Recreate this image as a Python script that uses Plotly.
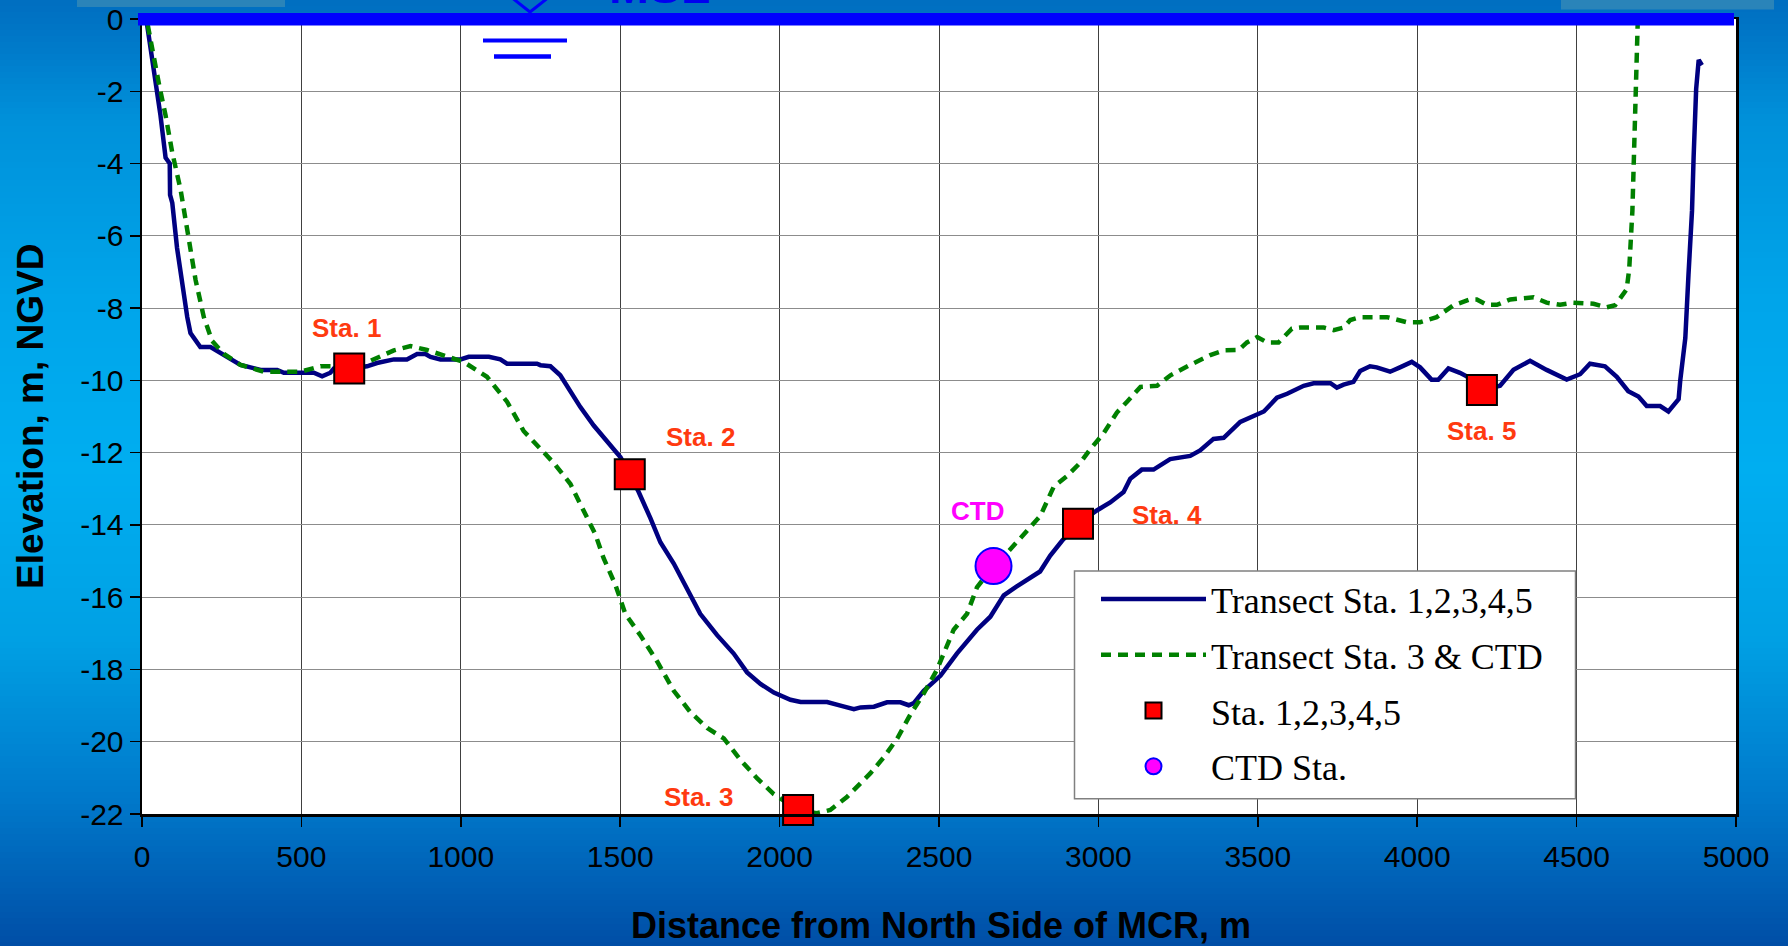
import plotly.graph_objects as go

# ---------------- data ----------------
blue_x = [10, 37, 58, 74, 87, 88, 95, 110, 126, 142, 152, 168, 183, 215, 246, 293, 309, 372, 424, 445,
          497, 539, 565, 591, 602, 650, 706, 737, 790, 831, 863, 889, 905, 936, 999, 1025, 1088, 1124,
          1145, 1239, 1250, 1281, 1312, 1333, 1375, 1417, 1448, 1501, 1530, 1558, 1595, 1626, 1668,
          1710, 1751, 1804, 1856, 1898, 1940, 1982, 2034, 2066, 2149, 2191, 2233, 2254, 2296, 2337,
          2379, 2405, 2421, 2452, 2505, 2556, 2619, 2661, 2703, 2744, 2776, 2817, 2849, 2886, 2936,
          2995, 3037, 3079, 3100, 3136, 3173, 3225, 3288, 3319, 3361, 3393, 3445, 3498, 3519, 3560,
          3592, 3644, 3675, 3728, 3748, 3769, 3800, 3821, 3852, 3873, 3894, 3915, 3946, 3983, 4009,
          4045, 4066, 4098, 4134, 4155, 4203, 4260, 4302, 4354, 4406, 4469, 4511, 4542, 4589, 4626,
          4662, 4694, 4720, 4762, 4788, 4820, 4825, 4841, 4851, 4862, 4867, 4875, 4883, 4893]
blue_y = [0.2, -1.35, -2.67, -3.84, -4.0, -4.87, -5.09, -6.34, -7.37, -8.25, -8.69, -8.88, -9.08, -9.08,
          -9.24, -9.46, -9.57, -9.71, -9.71, -9.79, -9.79, -9.79, -9.89, -9.79, -9.67, -9.67, -9.61,
          -9.52, -9.42, -9.42, -9.27, -9.27, -9.35, -9.42, -9.42, -9.35, -9.35, -9.42, -9.54, -9.54,
          -9.58, -9.61, -9.86, -10.15, -10.74, -11.25, -11.59, -12.13, -12.6, -13.09, -13.82, -14.48,
          -15.07, -15.8, -16.46, -17.05, -17.56, -18.08, -18.4, -18.64, -18.84, -18.9, -18.9, -19.0,
          -19.1, -19.05, -19.03, -18.91, -18.91, -18.99, -18.93, -18.59, -18.17, -17.56, -16.9, -16.54,
          -15.95, -15.7, -15.51, -15.29, -14.85, -14.44, -13.97, -13.6, -13.38, -13.09, -12.72, -12.47,
          -12.47, -12.18, -12.09, -11.94, -11.62, -11.59, -11.15, -10.93, -10.86, -10.48, -10.37,
          -10.15, -10.08, -10.08, -10.2, -10.12, -10.04, -9.74, -9.61, -9.64, -9.71, -9.76, -9.64,
          -9.49, -9.64, -9.98, -9.98, -9.67, -9.79, -9.89, -10.27, -10.15, -9.71, -9.46, -9.71, -9.98,
          -9.83, -9.54, -9.61, -9.9, -10.3, -10.45, -10.71, -10.71, -10.86, -10.52, -10.01, -8.83,
          -7.07, -5.31, -3.84, -1.94, -1.13, -1.28]

green_x = [8, 27, 53, 74, 95, 121, 147, 168, 194, 220, 257, 309, 382, 497, 560, 602, 650, 716, 790,
           842, 894, 957, 1009, 1082, 1145, 1197, 1250, 1291, 1344, 1386, 1422, 1448, 1485, 1516, 1563,
           1616, 1668, 1720, 1773, 1825, 1877, 1929, 1982, 2058, 2117, 2159, 2211, 2285, 2327, 2369,
           2410, 2452, 2494, 2546, 2588, 2619, 2671, 2713, 2765, 2818, 2860, 2901, 2943, 2974, 3016,
           3058, 3090, 3132, 3184, 3226, 3288, 3351, 3393, 3440, 3466, 3498, 3529, 3565, 3607, 3633,
           3707, 3738, 3769, 3790, 3821, 3905, 3967, 4009, 4061, 4114, 4166, 4187, 4218, 4250, 4292,
           4365, 4406, 4448, 4490, 4553, 4594, 4621, 4657, 4665, 4675, 4680, 4683, 4688, 4693]
green_y = [0.3, -0.62, -1.79, -2.67, -3.7, -4.72, -6.05, -7.22, -8.25, -8.91, -9.27, -9.57, -9.76,
           -9.76, -9.61, -9.61, -9.55, -9.46, -9.17, -9.05, -9.16, -9.35, -9.49, -9.9, -10.59, -11.4,
           -11.88, -12.28, -12.87, -13.6, -14.26, -14.92, -15.66, -16.46, -17.05, -17.78, -18.59,
           -19.18, -19.62, -19.91, -20.5, -21.01, -21.45, -21.89, -21.98, -21.89, -21.53, -20.87,
           -20.43, -19.91, -19.25, -18.67, -18.0, -16.9, -16.46, -15.73, -15.14, -14.78, -14.26,
           -13.75, -12.94, -12.65, -12.28, -11.91, -11.47, -10.89, -10.59, -10.18, -10.15, -9.86,
           -9.57, -9.3, -9.17, -9.16, -8.95, -8.8, -8.95, -8.95, -8.57, -8.54, -8.54, -8.61, -8.54,
           -8.33, -8.25, -8.25, -8.39, -8.39, -8.25, -7.92, -7.76, -7.76, -7.91, -7.91, -7.76, -7.7,
           -7.85, -7.91, -7.85, -7.88, -7.98, -7.92, -7.48, -6.93, -5.31, -3.55, -2.38, -1.06, 0.3]

sta_x = [650, 1530, 2058, 2936, 4203]
sta_y = [-9.67, -12.6, -21.89, -13.97, -10.27]
sta_names = ["Sta. 1", "Sta. 2", "Sta. 3", "Sta. 4", "Sta. 5"]

ctd_x = [2671]
ctd_y = [-15.14]
ctd_names = ["CTD"]

x_ticks = [0, 500, 1000, 1500, 2000, 2500, 3000, 3500, 4000, 4500, 5000]
y_ticks = [0, -2, -4, -6, -8, -10, -12, -14, -16, -18, -20, -22]

series_names = ["Transect Sta. 1,2,3,4,5", "Transect Sta. 3 & CTD", "Sta. 1,2,3,4,5", "CTD Sta."]

# ---------------- geometry ----------------
W, H = 1788, 946
ML, MR, MT, MB = 142, 52, 19, 132
PW, PH = W - ML - MR, H - MT - MB


def px(p):
    return (p - ML) / PW


def py(p):
    return (H - MB - p) / PH


SANS = "Liberation Sans, Arial, sans-serif"
SERIF = "Liberation Serif, Times New Roman, serif"

fig = go.Figure()
fig.add_trace(go.Scatter(x=blue_x, y=blue_y, mode="lines", name=series_names[0], legendgroup="g1",
                         line=dict(color="#000080", width=4.5)))
fig.add_trace(go.Scatter(x=green_x, y=green_y, mode="lines", name=series_names[1], legendgroup="g2",
                         line=dict(color="#008000", width=4.5, dash="10px,7px")))
fig.add_trace(go.Scatter(x=sta_x, y=sta_y, mode="markers", name=series_names[2], legendgroup="g3",
                         cliponaxis=False,
                         marker=dict(symbol="square", size=30, color="#FF0000",
                                     line=dict(color="#000000", width=2))))
fig.add_trace(go.Scatter(x=ctd_x, y=ctd_y, mode="markers", name=series_names[3], legendgroup="g4",
                         cliponaxis=False,
                         marker=dict(symbol="circle", size=36, color="#FF00FF",
                                     line=dict(color="#0000FF", width=2))))

# ---------------- background gradient ----------------
stops = [(0, (0, 110, 192)), (40, (0, 120, 200)), (120, (0, 145, 218)), (300, (0, 165, 234)),
         (470, (0, 174, 240)), (640, (0, 160, 228)), (800, (0, 120, 202)), (946, (0, 78, 166))]


def grad(p):
    for (a, ca), (b, cb) in zip(stops[:-1], stops[1:]):
        if a <= p <= b:
            t = (p - a) / (b - a)
            return "rgb(%d,%d,%d)" % tuple(round(ca[k] + t * (cb[k] - ca[k])) for k in range(3))
    return "rgb(%d,%d,%d)" % stops[-1][1]


shapes = []
step = 6
for p in range(0, H, step):
    shapes.append(dict(type="rect", xref="paper", yref="paper", x0=-0.2, x1=1.2,
                       y0=py(p + step + 0.5), y1=py(p), fillcolor=grad(p + step / 2),
                       line=dict(width=0), layer="below"))
# plot area background
shapes.append(dict(type="rect", xref="paper", yref="paper", x0=0, x1=1, y0=0, y1=1,
                   fillcolor="white", line=dict(width=0), layer="below"))
# light boxes at top
for a, b, h in [(77, 285, 7), (1561, 1774, 9.5)]:
    shapes.append(dict(type="rect", xref="paper", yref="paper", x0=px(a), x1=px(b),
                       y0=py(h), y1=py(-2), fillcolor="#2A84B9", line=dict(width=0), layer="below"))
# MSL bar
shapes.append(dict(type="rect", xref="paper", yref="paper", x0=px(138), x1=px(1734),
                   y0=py(25.5), y1=py(13), fillcolor="#0000FF", line=dict(width=0), layer="above"))
# water level symbol
shapes.append(dict(type="path", xref="paper", yref="paper",
                   path="M %f,%f L %f,%f L %f,%f" % (px(511), py(-3), px(530), py(12), px(549), py(-3)),
                   line=dict(color="#0000FF", width=3), layer="above"))
shapes.append(dict(type="line", xref="paper", yref="paper", x0=px(483), x1=px(567),
                   y0=py(40.5), y1=py(40.5), line=dict(color="#0000FF", width=4), layer="above"))
shapes.append(dict(type="line", xref="paper", yref="paper", x0=px(494), x1=px(551),
                   y0=py(56.5), y1=py(56.5), line=dict(color="#0000FF", width=4.5), layer="above"))
# legend box
shapes.append(dict(type="rect", xref="paper", yref="paper", x0=px(1074.5), x1=px(1575.5),
                   y0=py(798.7), y1=py(571), fillcolor="white",
                   line=dict(color="#808080", width=1.5), layer="above"))

# ---------------- annotations ----------------
annotations = []
sta_shift = [(-3, 40), (71, 37), (-100, 13), (89, 9), (0, -41)]
for xx, yy, nm, (dx, dy) in zip(sta_x, sta_y, sta_names, sta_shift):
    annotations.append(dict(x=xx, y=yy, xref="x", yref="y", text=nm, showarrow=False,
                            xshift=dx, yshift=dy,
                            font=dict(family=SANS, size=26, color="#FF3A10", weight="bold")))
for xx, yy, nm in zip(ctd_x, ctd_y, ctd_names):
    annotations.append(dict(x=xx, y=yy, xref="x", yref="y", text=nm, showarrow=False,
                            xshift=-16, yshift=55,
                            font=dict(family=SANS, size=26, color="#FF00FF", weight="bold")))
annotations.append(dict(x=px(659), y=py(15), xref="paper", yref="paper", text="MSL",
                        showarrow=False, xanchor="center", yanchor="bottom",
                        font=dict(family=SANS, size=48, color="#0000F0", weight="bold")))
annotations.append(dict(x=px(941), y=py(925), xref="paper", yref="paper",
                        text="Distance from North Side of MCR, m", showarrow=False,
                        xanchor="center", yanchor="middle",
                        font=dict(family=SANS, size=36, color="black", weight="bold")))
annotations.append(dict(x=px(30), y=py(417), xref="paper", yref="paper",
                        text="Elevation, m, NGVD", showarrow=False, textangle=-90,
                        xanchor="center", yanchor="middle",
                        font=dict(family=SANS, size=37, color="black", weight="bold")))

axis_common = dict(showgrid=True, gridwidth=1, zeroline=False, automargin=False,
                   showline=True, linecolor="black", linewidth=2.5, mirror=True,
                   ticks="outside", ticklen=10, tickwidth=1.5, tickcolor="black",
                   tickfont=dict(family=SANS, size=30, color="black"))

fig.update_layout(
    width=W, height=H,
    margin=dict(l=ML, r=MR, t=MT, b=MB, pad=0, autoexpand=False),
    paper_bgcolor="rgb(0,150,220)",
    plot_bgcolor="white",
    shapes=shapes,
    annotations=annotations,
    showlegend=True,
    hovermode=False,
    legend=dict(x=px(1096), y=py(569), xanchor="left", yanchor="top",
                bgcolor="rgba(0,0,0,0)", borderwidth=0, traceorder="grouped",
                tracegroupgap=6, itemwidth=105,
                font=dict(family=SERIF, size=36, color="black")),
    xaxis=dict(range=[0, 5000], tickvals=x_ticks, ticktext=[str(v) for v in x_ticks],
               gridcolor="#404040", ticklabelstandoff=4, **axis_common),
    yaxis=dict(range=[-22, 0], tickvals=y_ticks, ticktext=[str(v) for v in y_ticks],
               gridcolor="#8C8C8C", **axis_common),
)

fig.write_html("out.html", config={"displayModeBar": False, "staticPlot": True},
               post_script="document.body.style.margin='0';document.body.style.overflow='hidden';")
